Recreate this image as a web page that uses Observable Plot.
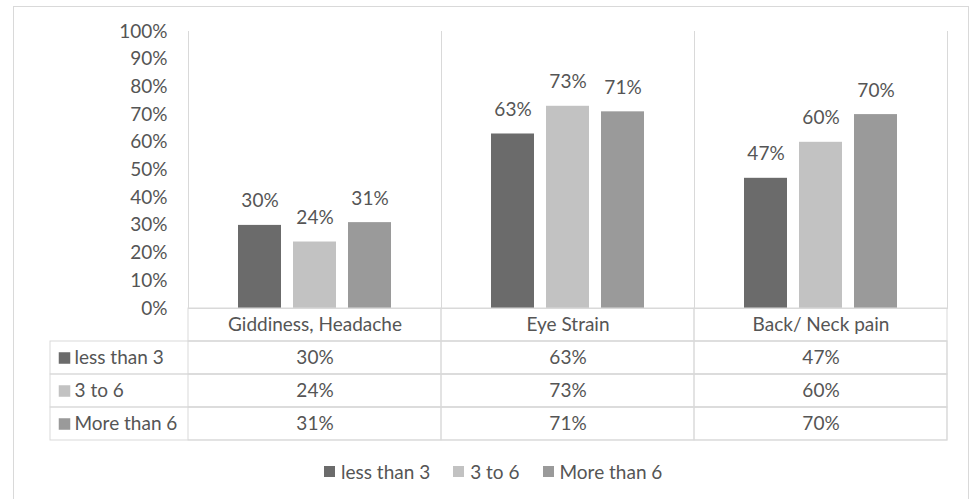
<!DOCTYPE html>
<html>
<head>
<meta charset="utf-8">
<script src="https://cdn.jsdelivr.net/npm/d3@7"></script>
<script src="https://cdn.jsdelivr.net/npm/@observablehq/plot@0.6"></script>
<style>
  html, body { margin: 0; padding: 0; background: #fff; }
  body { width: 971px; height: 499px; position: relative; overflow: hidden; font-family: Lato, "Open Sans", sans-serif; }
  #border { position: absolute; left: 13px; top: 6px; width: 956px; height: 520px; border: 1px solid #d9d9d9; box-sizing: border-box; }
  #bars, #table, #legend { position: absolute; left: 0; }
  #bars { top: 0; }
  #table { top: 300px; }
  #legend { top: 455px; left: 324px; }
  #legend [class$="-swatch"] { margin-right: 23px !important; }
  #legend [class$="-swatch"] > svg { margin-right: 6px !important; }
  svg { overflow: visible; }
</style>
</head>
<body>
<div id="border"></div>
<div id="bars"></div>
<div id="table"></div>
<div id="legend"></div>
<script>
// Symptom categories, screen-time groups (hours) and the share reporting each symptom
const categories = ["Giddiness, Headache", "Eye Strain", "Back/ Neck pain"];
const series = ["less than 3", "3 to 6", "More than 6"];
const lessThan3 = [0.30, 0.63, 0.47];
const from3To6 = [0.24, 0.73, 0.60];
const moreThan6 = [0.31, 0.71, 0.70];
const yTicks = [0, 0.1, 0.2, 0.3, 0.4, 0.5, 0.6, 0.7, 0.8, 0.9, 1.0];
const colors = ["#6b6b6b", "#c2c2c2", "#9a9a9a"];

const seriesValues = [lessThan3, from3To6, moreThan6];
const data = series.flatMap((s, i) =>
  categories.map((c, j) => ({category: c, series: s, value: seriesValues[i][j]}))
);

const pct = d3.format(".0%");
const ink = "#555555";
const lineColor = "#d9d9d9";
const font = "Lato, 'Open Sans', sans-serif";
const fontSize = "19px";
const colorScale = {domain: series, range: colors};

// Clustered columns, one facet per symptom
const bars = Plot.plot({
  width: 971,
  height: 320,
  marginLeft: 187,
  marginRight: 24,
  marginTop: 31,
  marginBottom: 12,
  style: {fontFamily: font, fontSize, color: ink, background: "transparent"},
  fx: {domain: categories, padding: 0, axis: null},
  x: {domain: series, paddingInner: 0.22, paddingOuter: 0.91, axis: null},
  y: {domain: [0, 1], ticks: yTicks, tickFormat: pct, tickSize: 0, tickPadding: 21, label: null},
  color: colorScale,
  marks: [
    Plot.frame({anchor: "left", stroke: lineColor}),
    Plot.frame({anchor: "right", stroke: lineColor}),
    Plot.barY(data, {fx: "category", x: "series", y: "value", fill: "series"}),
    Plot.text(data, {fx: "category", x: "series", y: "value", text: d => pct(d.value), dy: -24, fill: ink}),
    Plot.ruleY([0], {stroke: lineColor})
  ]
});
document.getElementById("bars").append(bars);

// Data table under the chart: a header row of categories, then one row per group
const headerKey = "header";
const table = Plot.plot({
  width: 971,
  height: 150,
  marginLeft: 50,
  marginRight: 24,
  marginTop: 8,
  marginBottom: 10,
  style: {fontFamily: font, fontSize, color: ink, background: "transparent"},
  x: {domain: categories, range: [187, 947], padding: 0, axis: null},
  y: {domain: [headerKey, ...series], padding: 0, axis: null},
  color: colorScale,
  marks: [
    Plot.cell(categories, {x: d => d, y: () => headerKey, fill: "none", stroke: lineColor}),
    Plot.text(categories, {x: d => d, y: () => headerKey, text: d => d, fill: ink}),
    Plot.cell(series, {y: d => d, fill: "none", stroke: lineColor}),
    Plot.cell(data, {x: "category", y: "series", fill: "none", stroke: lineColor}),
    Plot.text(data, {x: "category", y: "series", text: d => pct(d.value), fill: ink}),
    Plot.dot(series, {y: d => d, frameAnchor: "left", dx: 14, symbol: "square", r: 6.5, fill: d => d}),
    Plot.text(series, {y: d => d, frameAnchor: "left", dx: 24, textAnchor: "start", text: d => d, fill: ink})
  ]
});
document.getElementById("table").append(table);

// Swatch legend below the table
const legend = Plot.legend({
  color: colorScale,
  legend: "swatches",
  swatchSize: 11,
  style: {fontFamily: font, fontSize, color: ink}
});
document.getElementById("legend").append(legend);
</script>
</body>
</html>
